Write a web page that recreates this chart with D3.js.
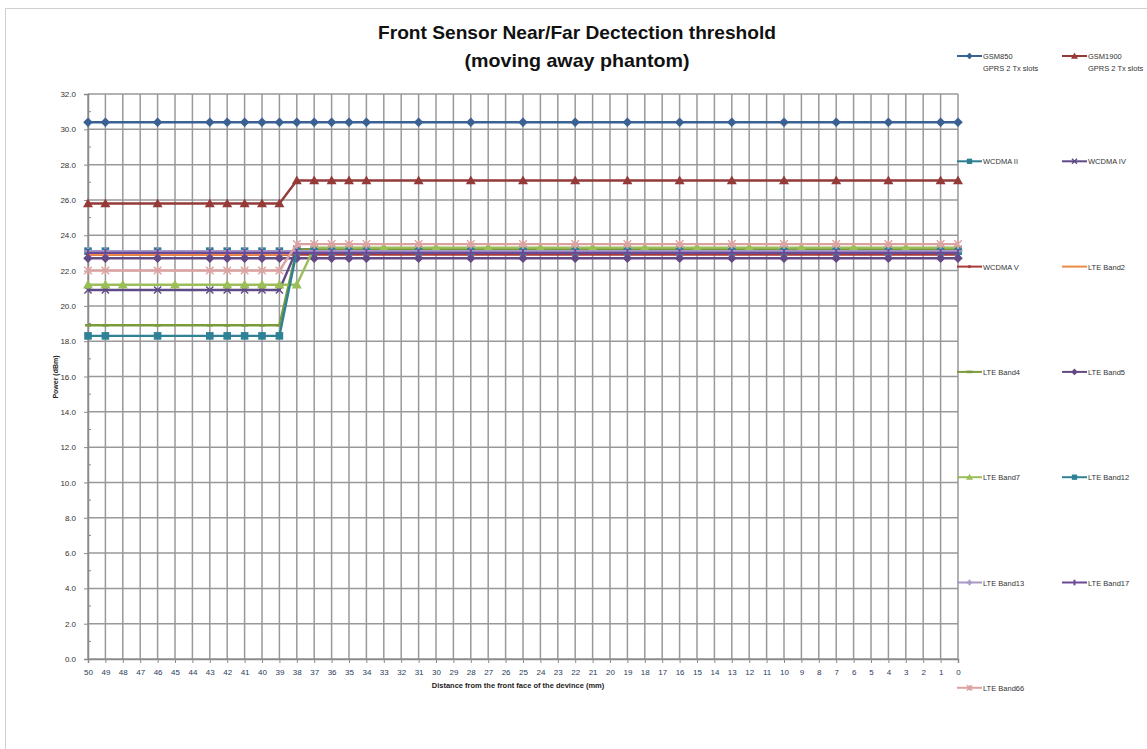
<!DOCTYPE html>
<html><head><meta charset="utf-8">
<script src="https://cdn.jsdelivr.net/npm/d3@7/dist/d3.min.js"></script>
<style>
body{margin:0;background:#fff;}
svg{display:block;font-family:"Liberation Sans",Arial,sans-serif;}
</style></head>
<body><svg id="c" width="1147" height="749"></svg>
<script>
const categories = ["50","49","48","47","46","45","44","43","42","41","40","39","38","37","36","35","34","33","32","31","30","29","28","27","26","25","24","23","22","21","20","19","18","17","16","15","14","13","12","11","10","9","8","7","6","5","4","3","2","1","0"];
const yTicks = [0,2,4,6,8,10,12,14,16,18,20,22,24,26,28,30,32];
const yMinorTicks = [1,3,5,7,9,11,13,15,17,19,21,23,25,27,29,31];

const xMain  = [50,49,46,43,42,41,40,39,38,37,36,35,34,31,28,25,22,19,16,13,10,7,4,1,0];
const xBand7 = [50,49,48,45,42,41,40,39,38,37,36,35,34,33,30,27,24,21,18,15,12,9,6,3,0];

const gsm850  = [30.4,30.4,30.4,30.4,30.4,30.4,30.4,30.4,30.4,30.4,30.4,30.4,30.4,30.4,30.4,30.4,30.4,30.4,30.4,30.4,30.4,30.4,30.4,30.4,30.4];
const gsm1900 = [25.8,25.8,25.8,25.8,25.8,25.8,25.8,25.8,27.1,27.1,27.1,27.1,27.1,27.1,27.1,27.1,27.1,27.1,27.1,27.1,27.1,27.1,27.1,27.1,27.1];
const wcdma2  = [23.1,23.1,23.1,23.1,23.1,23.1,23.1,23.1,23.1,23.1,23.1,23.1,23.1,23.1,23.1,23.1,23.1,23.1,23.1,23.1,23.1,23.1,23.1,23.1,23.1];
const wcdma4  = [20.9,20.9,20.9,20.9,20.9,20.9,20.9,20.9,23.2,23.2,23.2,23.2,23.2,23.2,23.2,23.2,23.2,23.2,23.2,23.2,23.2,23.2,23.2,23.2,23.2];
const wcdma5  = [22.9,22.9,22.9,22.9,22.9,22.9,22.9,22.9,22.9,22.9,22.9,22.9,22.9,22.9,22.9,22.9,22.9,22.9,22.9,22.9,22.9,22.9,22.9,22.9,22.9];
const band2   = [22.9,22.9,22.9,22.9,22.9,22.9,22.9,22.9,23.0,23.0,23.0,23.0,23.0,23.0,23.0,23.0,23.0,23.0,23.0,23.0,23.0,23.0,23.0,23.0,23.0];
const band4   = [18.9,18.9,18.9,18.9,18.9,18.9,18.9,18.9,23.2,23.2,23.2,23.2,23.2,23.2,23.2,23.2,23.2,23.2,23.2,23.2,23.2,23.2,23.2,23.2,23.2];
const band5   = [22.7,22.7,22.7,22.7,22.7,22.7,22.7,22.7,22.7,22.7,22.7,22.7,22.7,22.7,22.7,22.7,22.7,22.7,22.7,22.7,22.7,22.7,22.7,22.7,22.7];
const band7   = [21.2,21.2,21.2,21.2,21.2,21.2,21.2,21.2,21.2,23.3,23.3,23.3,23.3,23.3,23.3,23.3,23.3,23.3,23.3,23.3,23.3,23.3,23.3,23.3,23.3];
const band12  = [18.3,18.3,18.3,18.3,18.3,18.3,18.3,18.3,23.1,23.1,23.1,23.1,23.1,23.1,23.1,23.1,23.1,23.1,23.1,23.1,23.1,23.1,23.1,23.1,23.1];
const band13  = [23.1,23.1,23.1,23.1,23.1,23.1,23.1,23.1,23.1,23.1,23.1,23.1,23.1,23.1,23.1,23.1,23.1,23.1,23.1,23.1,23.1,23.1,23.1,23.1,23.1];
const band17  = [23.0,23.0,23.0,23.0,23.0,23.0,23.0,23.0,23.0,23.0,23.0,23.0,23.0,23.0,23.0,23.0,23.0,23.0,23.0,23.0,23.0,23.0,23.0,23.0,23.0];
const band66  = [22.0,22.0,22.0,22.0,22.0,22.0,22.0,22.0,23.5,23.5,23.5,23.5,23.5,23.5,23.5,23.5,23.5,23.5,23.5,23.5,23.5,23.5,23.5,23.5,23.5];

const seriesNames = ["GSM850","GSM1900","WCDMA II","WCDMA IV","WCDMA V","LTE Band2","LTE Band4","LTE Band5","LTE Band7","LTE Band12","LTE Band13","LTE Band17","LTE Band66"];
const seriesSub = ["GPRS 2 Tx slots","GPRS 2 Tx slots","","","","","","","","","","",""];
const seriesValues = [gsm850,gsm1900,wcdma2,wcdma4,wcdma5,band2,band4,band5,band7,band12,band13,band17,band66];
const seriesX = [xMain,xMain,xMain,xMain,xMain,xMain,xMain,xMain,xBand7,xMain,xMain,xMain,xMain];
const seriesColors = ["#3A6194","#943A38","#2F7F92","#5E4A86","#A83A3A","#EE8A45","#7A9A3C","#634A85","#9BBE59","#2F8296","#A898C8","#6A4A96","#DCA2A0"];
const seriesMarkers = ["diamond","triangle","square","x","dot","none","dash","diamond","triangle","square","plus","bar","star"];

const svg = d3.select("#c");
const W = 1147, H = 749;
const L = 88, R = 958, T = 94, B = 659;

svg.append("rect").attr("x",5.5).attr("y",8.5).attr("width",W).attr("height",H)
  .attr("fill","#fff").attr("stroke","#d0d0d0");

const x = d3.scalePoint().domain(categories).range([L,R]);
const y = d3.scaleLinear().domain([0,32]).range([B,T]);

// grid
const grid = svg.append("g");
grid.selectAll("line.h").data(yTicks).join("line")
  .attr("x1",L).attr("x2",R).attr("y1",d=>y(d)).attr("y2",d=>y(d))
  .attr("stroke","#999").attr("stroke-width",1.5);
grid.selectAll("line.v").data(categories).join("line")
  .attr("x1",d=>x(d)).attr("x2",d=>x(d)).attr("y1",T).attr("y2",B)
  .attr("stroke","#999").attr("stroke-width",1.5);

// axes
const ya = svg.append("g").attr("transform",`translate(${L},0)`)
  .call(d3.axisLeft(y).tickValues(yTicks).tickFormat(d3.format(".1f")).tickSize(4).tickPadding(8));
ya.select(".domain").attr("stroke","#8a8a8a").attr("stroke-width",1.5);
ya.selectAll(".tick line").attr("stroke","#8a8a8a");
ya.selectAll("text").attr("font-size",8).attr("fill","#333");
svg.append("g").selectAll("line").data(yMinorTicks).join("line")
  .attr("x1",L).attr("x2",L+3).attr("y1",d=>y(d)).attr("y2",d=>y(d))
  .attr("stroke","#8a8a8a").attr("stroke-width",1);

const xa = svg.append("g").attr("transform",`translate(0,${B})`)
  .call(d3.axisBottom(x).tickSize(4).tickPadding(6));
xa.select(".domain").attr("stroke","#8a8a8a").attr("stroke-width",1.5);
xa.selectAll(".tick line").attr("stroke","#8a8a8a");
xa.selectAll("text").attr("font-size",8).attr("fill","#2a3a5a");

// titles
svg.append("text").attr("x",577).attr("y",39).attr("text-anchor","middle")
  .attr("font-size",19).attr("font-weight","bold").attr("fill","#111")
  .attr("textLength",398).attr("lengthAdjust","spacingAndGlyphs")
  .text("Front Sensor Near/Far Dectection threshold");
svg.append("text").attr("x",577).attr("y",67).attr("text-anchor","middle")
  .attr("font-size",19).attr("font-weight","bold").attr("fill","#111")
  .attr("textLength",225).attr("lengthAdjust","spacingAndGlyphs")
  .text("(moving away phantom)");
svg.append("text").attr("x",518).attr("y",688).attr("text-anchor","middle")
  .attr("font-size",7.5).attr("font-weight","bold").attr("fill","#222")
  .text("Distance  from the front face of the devince  (mm)");
svg.append("text").attr("transform","translate(58,377) rotate(-90)").attr("text-anchor","middle")
  .attr("font-size",7).attr("font-weight","bold").attr("fill","#222")
  .text("Power  (dBm)");

function drawMarker(g, type, color, cx, cy, s) {
  s = s || 1;
  if (type === "diamond") {
    const r = 4.8*s;
    g.append("path").attr("d",`M${cx},${cy-r}L${cx+r},${cy}L${cx},${cy+r}L${cx-r},${cy}Z`).attr("fill",color);
  } else if (type === "triangle") {
    const r = 5*s;
    g.append("path").attr("d",`M${cx},${cy-r}L${cx+r},${cy+r*0.75}L${cx-r},${cy+r*0.75}Z`).attr("fill",color);
  } else if (type === "square") {
    const r = 3.8*s;
    g.append("rect").attr("x",cx-r).attr("y",cy-r).attr("width",2*r).attr("height",2*r).attr("fill",color);
  } else if (type === "x") {
    const r = 3.6*s;
    g.append("path").attr("d",`M${cx-r},${cy-r}L${cx+r},${cy+r}M${cx-r},${cy+r}L${cx+r},${cy-r}`).attr("stroke",color).attr("stroke-width",1.4);
  } else if (type === "star") {
    const r = 3.8*s;
    g.append("path").attr("d",`M${cx-r},${cy-r}L${cx+r},${cy+r}M${cx-r},${cy+r}L${cx+r},${cy-r}M${cx},${cy-r}L${cx},${cy+r}`).attr("stroke",color).attr("stroke-width",1.4);
  } else if (type === "plus") {
    const r = 4*s;
    g.append("path").attr("d",`M${cx-r},${cy}L${cx+r},${cy}M${cx},${cy-r}L${cx},${cy+r}`).attr("stroke",color).attr("stroke-width",2);
  } else if (type === "bar") {
    const r = 4*s;
    g.append("path").attr("d",`M${cx},${cy-r}L${cx},${cy+r}`).attr("stroke",color).attr("stroke-width",2);
  } else if (type === "dot") {
    g.append("circle").attr("cx",cx).attr("cy",cy).attr("r",2.2*s).attr("fill",color);
  } else if (type === "dash") {
    g.append("path").attr("d",`M${cx-3},${cy}L${cx+3},${cy}`).attr("stroke",color).attr("stroke-width",2.6);
  }
}

// series
const plot = svg.append("g");
seriesNames.forEach((name,i)=>{
  const pts = seriesX[i].map((xv,j)=>[x(String(xv)), y(seriesValues[i][j])]);
  const g = plot.append("g");
  g.append("path").attr("d",d3.line()(pts)).attr("fill","none")
    .attr("stroke",seriesColors[i]).attr("stroke-width",2.4);
  pts.forEach(p=>drawMarker(g, seriesMarkers[i], seriesColors[i], p[0], p[1]));
});

// legend
const legend = svg.append("g");
seriesNames.forEach((name,i)=>{
  const col = i%2, row = Math.floor(i/2);
  const lx = col===0 ? 957 : 1062;
  const ly = 56 + row*105.3;
  const g = legend.append("g");
  g.append("line").attr("x1",lx).attr("x2",lx+25).attr("y1",ly).attr("y2",ly)
    .attr("stroke",seriesColors[i]).attr("stroke-width",2);
  drawMarker(g, seriesMarkers[i], seriesColors[i], lx+12.5, ly, 0.7);
  g.append("text").attr("x",lx+26).attr("y",ly+3).attr("font-size",7.5).attr("fill","#333").text(name);
  if (seriesSub[i]) g.append("text").attr("x",lx+26).attr("y",ly+15).attr("font-size",7.5).attr("fill","#333").text(seriesSub[i]);
});
</script></body></html>
